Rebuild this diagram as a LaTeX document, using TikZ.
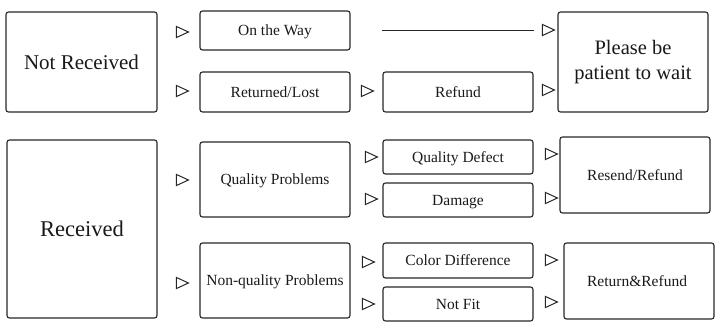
\documentclass[tikz,border=0pt]{standalone}
\usepackage{fontspec}
\setmainfont{Liberation Serif}
\usetikzlibrary{shapes.geometric}

\tikzset{
  frame/.style={draw=black!85, line width=1.1pt, rounded corners=2.5pt, align=center,
    inner sep=1pt, text=black!90},
  box/.style={frame, font=\fontsize{15.5}{18}\selectfont, text height=10.5pt, text depth=0pt},
  bigbox/.style={frame, font=\fontsize{21}{25}\selectfont},
  tri/.style={isosceles triangle, isosceles triangle stretches, draw=black!85,
    line width=1pt, inner sep=0pt, minimum width=11pt, minimum height=12pt}
}

\begin{document}
\begin{tikzpicture}[x=1pt,y=-1pt]
	\useasboundingbox (0,0) rectangle (720,331);
	
	% ---- Large boxes ----
	\node[bigbox, minimum width=151pt, minimum height=100pt] (notrec) at (81.5,62) {Not Received};
	\node[bigbox, minimum width=150pt, minimum height=178pt, font=\fontsize{22.5}{25}\selectfont] (rec) at (82,229) {Received};
	\node[bigbox, minimum width=150pt, minimum height=100pt, font=\fontsize{20.5}{25}\selectfont] (wait) at (633,62) {Please be\\patient to wait};
	
	% ---- Small boxes ----
	\foreach \x/\y/\w/\h/\name/\txt in {
		275/30.5/150/39/way/{On the Way},
		275/92/150/40/lost/{Returned/Lost},
		458/92/150/40/refund/{Refund},
		275/179.5/150/75/qual/{Quality Problems},
		275/280.5/150/75/nonqual/{Non-quality Problems},
		458/157/150/34/defect/{Quality Defect},
		458/200/150/34/damage/{Damage},
		458/260.5/150/35/color/{Color Difference},
		458/304/150/34/notfit/{Not Fit},
		635/175/150/76/resend/{Resend/Refund},
		639/281/150/76/retref/{Return\&Refund}
	}
	{
		\node[box, minimum width=\w pt, minimum height=\h pt] (\name) at (\x,\y) {\txt};
	}
	
	% ---- Triangle marks ----
	\foreach \x/\y [count=\i] in {
		180/32, 180/91, 546/30, 365/91, 546/90,
		180/180, 180/283,
		369/157, 369/199, 366/262, 366/304,
		549/154, 549/198, 549/260, 549/302
	}
	{
		\node[tri] (t\i) at (\x,\y) {};
	}
	
	% ---- Line across ----
	\coordinate (lineA) at (refund.west |- way.east);
	\coordinate (lineB) at (refund.east |- way.east);
	\draw[line width=1.1pt, black!85] (lineA) -- (lineB);
	
\end{tikzpicture}
\end{document}
